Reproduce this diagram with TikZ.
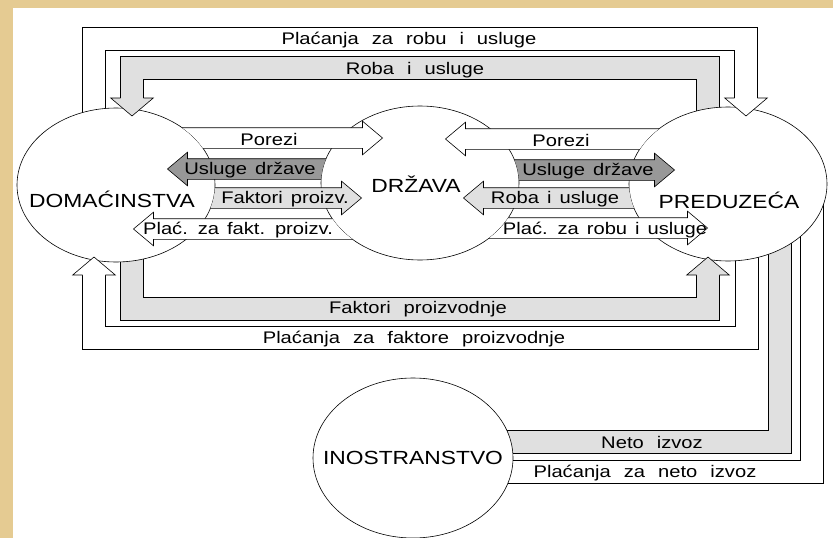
\documentclass[tikz,border=0pt]{standalone}
\usepackage{fontspec}
\setmainfont{Liberation Sans}[FakeStretch=1.2]
\usetikzlibrary{shapes.geometric, shapes.arrows, calc}

\definecolor{parchment}{RGB}{229,203,146}
\definecolor{bandgray}{RGB}{224,224,224}
\definecolor{darkflow}{RGB}{152,152,152}

\newcommand{\flowfont}{\fontsize{16.8}{19}\selectfont\spaceskip=8pt plus 1pt\relax}
\newcommand{\bandfont}{\fontsize{16.8}{19}\selectfont\spaceskip=13pt plus 1pt\relax}
\newcommand{\sectorfont}{\fontsize{19}{22}\selectfont}

\tikzset{
  sector/.style={ellipse, draw, line width=0.6pt, fill=white, minimum width=198pt, minimum height=154pt, inner sep=0pt},
  sectorname/.style={font=\sectorfont, inner sep=0pt, anchor=base},
  band/.style={draw=black, line width=0.6pt, double distance=22pt, line join=miter},
  bandlabel/.style={font=\bandfont, inner sep=0pt, anchor=base},
  flowlabel/.style={font=\flowfont, inner sep=0pt, anchor=base},
  flow/.style={single arrow, draw, line width=0.6pt, text height=0pt, text depth=0pt, inner xsep=0pt, inner ysep=10pt,
    single arrow head extend=6.5pt, single arrow tip angle=80, anchor=tip},
  toleft/.style={shape border rotate=180},
}

% arrow heads at the ends of the big loops
\newcommand{\headdown}[2]{\filldraw[fill=#2, line width=0.6pt, line join=miter]
  ($(#1)+(-11.3,0)$) -- ++(-10,0) -- ++(21.3,18) -- ++(21.3,-18) -- ++(-10,0);}
\newcommand{\headup}[2]{\filldraw[fill=#2, line width=0.6pt, line join=miter]
  ($(#1)+(-11.3,0)$) -- ++(-10,0) -- ++(21.3,-18) -- ++(21.3,18) -- ++(-10,0);}

\begin{document}
\begin{tikzpicture}[x=1pt, y=-1pt]

  \useasboundingbox (0,0) rectangle (833,538);
  \fill[parchment] (0,0) rectangle (833,538);
  \fill[white] (13,8) rectangle (833,538);

  %==================================================

  \coordinate (a_in) at (94,150);
  \coordinate (a_top) at (746,39);
  \coordinate (a_end) at (746,98);

  \coordinate (b_in) at (708,170);
  \coordinate (b_top) at (132,68);
  \coordinate (b_end) at (132,98);

  \coordinate (c_in) at (132,200);
  \coordinate (c_bot) at (708,309);
  \coordinate (c_end) at (708,275);

  \coordinate (d_in) at (747,200);
  \coordinate (d_bot) at (94,338);
  \coordinate (d_end) at (94,275);

  \coordinate (e_in) at (780,200);
  \coordinate (e_out) at (413,442);

  \coordinate (f_in) at (812,185);
  \coordinate (f_out) at (413,472);

  \draw[band, double=white] (a_in) |- (a_top) -- (a_end);
  \draw[band, double=bandgray] (b_in) |- (b_top) -- (b_end);
  \draw[band, double=bandgray] (c_in) |- (c_bot) -- (c_end);
  \draw[band, double=white] (d_in) |- (d_bot) -- (d_end);
  \draw[band, double=bandgray] (e_in) |- (e_out);
  \draw[band, double=white] (f_in) |- (f_out);

  %==================================================

  \node[sector] (dom) at (116,185) {};
  \node[sector] (drz) at (420,183) {};
  \node[sector] (pre) at (728,184) {};
  \node[sector, minimum width=200pt, minimum height=160pt] (ino) at (413,458) {};

  \node[sectorname] (dom_name) at (112,207) {DOMAĆINSTVA};
  \node[sectorname] (drz_name) at (416,192) {DRŽAVA};
  \node[sectorname] (pre_name) at (729,208) {PREDUZEĆA};
  \node[sectorname] (ino_name) at (413,464) {INOSTRANSTVO};

  \headdown{a_end}{white}
  \headdown{b_end}{bandgray}
  \headup{c_end}{bandgray}
  \headup{d_end}{white}

  %==================================================

  \begin{scope}[even odd rule]
    \clip (0,0) rectangle (833,538) (dom.center) ellipse [x radius=99pt, y radius=77pt];
    \node[flow, fill=white, minimum height=233pt] (porezi_1) at (383,138) {};
    \node[flow, fill=bandgray, minimum height=212pt] (faktori_1) at (362,198) {};
  \end{scope}

  \begin{scope}[even odd rule]
    \clip (0,0) rectangle (833,538) (drz.center) ellipse [x radius=99pt, y radius=77pt];
    \node[flow, toleft, fill=darkflow, minimum height=203pt] (usluge_1) at (167,169) {};
    \node[flow, toleft, fill=white, minimum height=257pt] (plac_1) at (133,229) {};
    \node[flow, fill=darkflow, minimum height=215pt] (usluge_2) at (675,170) {};
    \node[flow, fill=white, minimum height=248pt] (plac_2) at (708,228) {};
  \end{scope}

  \begin{scope}[even odd rule]
    \clip (0,0) rectangle (833,538) (pre.center) ellipse [x radius=99pt, y radius=77pt];
    \node[flow, toleft, fill=white, minimum height=255pt] (porezi_2) at (445,139) {};
    \node[flow, toleft, fill=bandgray, minimum height=237pt] (roba_2) at (463,198) {};
  \end{scope}

  %==================================================

  \node[flowlabel] (porezi_1_t) at (269,145) {Porezi};
  \node[flowlabel] (usluge_1_t) at (250,174) {Usluge države};
  \node[flowlabel] (faktori_1_t) at (285,203) {Faktori proizv.};
  \node[flowlabel] (plac_1_t) at (238,234) {Plać. za fakt. proizv.};

  \node[flowlabel] (porezi_2_t) at (561,146) {Porezi};
  \node[flowlabel] (usluge_2_t) at (588,175) {Usluge države};
  \node[flowlabel] (roba_2_t) at (555,203) {Roba i usluge};
  \node[flowlabel] (plac_2_t) at (605,234) {Plać. za robu i usluge};

  \node[bandlabel] (a_t) at (409,44) {Plaćanja za robu i usluge};
  \node[bandlabel] (b_t) at (415,74) {Roba i usluge};
  \node[bandlabel] (c_t) at (418,313) {Faktori proizvodnje};
  \node[bandlabel] (d_t) at (414,343) {Plaćanja za faktore proizvodnje};
  \node[bandlabel] (e_t) at (652,448) {Neto izvoz};
  \node[bandlabel] (f_t) at (645,477) {Plaćanja za neto izvoz};

\end{tikzpicture}
\end{document}
